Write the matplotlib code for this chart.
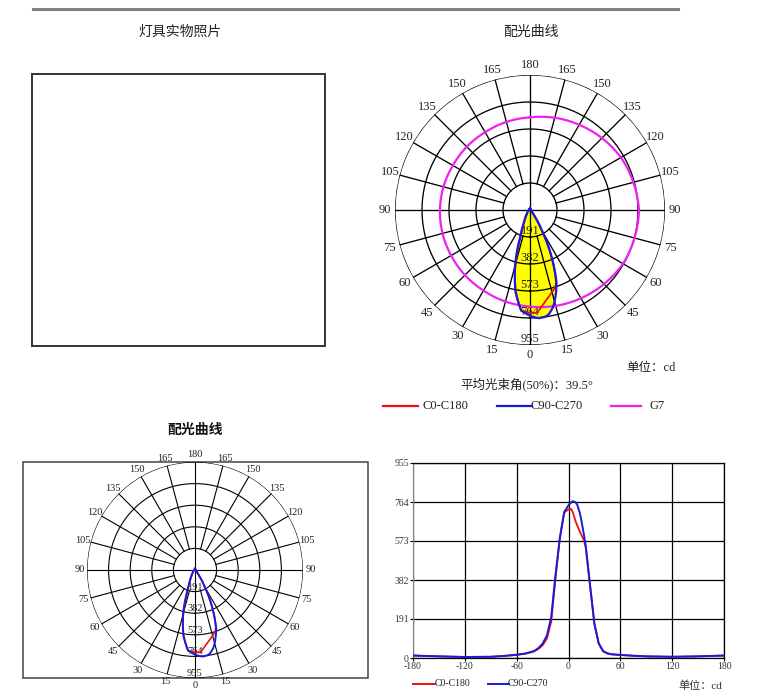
import matplotlib
matplotlib.use("Agg")
import matplotlib.pyplot as plt
import matplotlib.patches as mpatches
import numpy as np

# Data (angle in degrees, intensity in cd)
angles = [-180, -150, -120, -90, -75, -60, -50, -45, -40, -35, -30, -25, -20, -15, -10, -5,
          0, 3, 5, 8, 10, 13, 15, 18, 20, 25, 30, 35, 40, 45, 50, 60, 75, 90, 120, 150, 180]
c90_c270 = [12, 8, 5, 6, 10, 16, 22, 28, 34, 48, 70, 110, 200, 410, 585, 715,
            748, 762, 768, 763, 752, 712, 672, 600, 548, 355, 168, 72, 34, 23, 18, 15, 11, 8, 6, 8, 12]
c0_c180 = [12, 8, 5, 6, 10, 15, 21, 26, 32, 44, 62, 95, 178, 392, 592, 712,
           728, 730, 714, 672, 650, 620, 602, 576, 540, 352, 165, 70, 33, 22, 18, 15, 11, 8, 6, 8, 12]
g7_angles = [-180, -150, -120, -90, -60, -30, 0, 30, 60, 90, 120, 150, 180]
g7_values = [655, 635, 630, 637, 644, 658, 683, 721, 760, 771, 743, 696, 655]

rings = [191, 382, 573, 764, 955]
x_ticks = [-180, -120, -60, 0, 60, 120, 180]

W, H = 765, 696
SERIF = "Liberation Serif"
CJK = ["Noto Sans CJK SC", "DejaVu Sans"]
MIX = ["Liberation Serif", "Noto Sans CJK SC"]

fig = plt.figure(figsize=(W / 100, H / 100), dpi=100)
fig.patch.set_facecolor("white")

# overlay in pixel coordinates for frames and text
ov = fig.add_axes([0, 0, 1, 1], zorder=0)
ov.set_xlim(0, W)
ov.set_ylim(H, 0)
ov.axis("off")


def px_axes(cx, cy, r, **kw):
    return fig.add_axes([(cx - r) / W, (H - cy - r) / H, 2 * r / W, 2 * r / H], **kw)


def arcs(artists, steps=24):
    # let the polar transform bend segments along arcs
    for a in artists:
        a.get_path()._interpolation_steps = steps


def draw_polar(ax, fs, lw, lab_k):
    ax.set_theta_zero_location("S")
    ax.set_ylim(0, rings[-1])
    ax.grid(False)
    ax.set_xticks([])
    ax.set_yticks([])
    ax.spines["polar"].set_visible(False)
    ax.patch.set_alpha(0)
    full = np.linspace(0, 2 * np.pi, 361)
    for r in rings:
        ax.plot(full, np.full_like(full, r), color="black", lw=lw, zorder=2)
    for a in range(0, 360, 15):
        t = np.deg2rad(a)
        r0 = 0 if a % 90 == 0 else rings[0]
        ax.plot([t, t], [r0, rings[-1]], color="black", lw=lw, zorder=2)
    for a in range(0, 181, 15):
        sides = (1,) if a in (0, 180) else (1, -1)
        for s in sides:
            ax.text(np.deg2rad(s * a), rings[-1] * lab_k, str(a), ha="center", va="center",
                    fontsize=fs, family=SERIF, color="#222222", clip_on=False)
    for v in rings:
        ax.text(0, v, str(v), ha="center", va="bottom", fontsize=fs,
                family=SERIF, color="#222222", zorder=3)


th = np.deg2rad(angles)

# --- top line and titles ---
ov.plot([33, 678], [9, 9], color="#808080", lw=2.2)
ov.text(180, 32, "灯具实物照片", ha="center", va="center", fontsize=10, family=CJK, color="#222222")
ov.text(531, 32, "配光曲线", ha="center", va="center", fontsize=10, family=CJK, color="#222222")
ov.add_patch(mpatches.Rectangle((32.5, 74), 293, 272, fill=False, ec="#333333", lw=1.4))

# --- top polar ---
ax1 = px_axes(530, 210, 135, projection="polar", zorder=2)
draw_polar(ax1, 9, 0.95, 1.075)
arcs(ax1.fill(th, c90_c270, color="#ffff00", zorder=1))
arcs(ax1.plot(np.deg2rad(g7_angles), g7_values, color="#ee22ee", lw=1.6, zorder=4))
arcs(ax1.plot(th, c0_c180, color="#ee1111", lw=1.3, zorder=5))
arcs(ax1.plot(th, c90_c270, color="#1a1adf", lw=1.6, zorder=6))

ov.text(676, 368, "单位：cd", ha="right", va="center", fontsize=9, family=MIX, color="#222222")
ov.text(527, 384, "平均光束角(50%)：39.5°", ha="center", va="center", fontsize=9,
        family=MIX, color="#222222")
leg = [(383, 418, "#ee1111", "C0-C180", 423),
       (497, 532, "#1a1adf", "C90-C270", 531),
       (611, 641, "#ee22ee", "G7", 650)]
for x0, x1, c, lab, tx in leg:
    ov.plot([x0, x1], [406, 406], color=c, lw=1.6)
    ov.text(tx, 406, lab, ha="left", va="center", fontsize=9, family=SERIF, color="#222222")

# --- bottom-left polar ---
ov.text(195, 430, "配光曲线", ha="center", va="center", fontsize=10, fontweight="bold",
        family=CJK, color="#111111")
ov.add_patch(mpatches.Rectangle((23, 462), 345, 216, fill=False, ec="#444444", lw=1.1))
ax2 = px_axes(195, 570, 108, projection="polar", zorder=2)
draw_polar(ax2, 7.5, 0.8, 1.07)
arcs(ax2.plot(th, c0_c180, color="#ee1111", lw=1.2, zorder=5))
arcs(ax2.plot(th, c90_c270, color="#1a1adf", lw=1.4, zorder=6))

# --- bottom-right cartesian ---
ax3 = fig.add_axes([413 / W, (H - 658) / H, 311 / W, 195 / H], zorder=2)
ax3.plot(angles, c0_c180, color="#ee1111", lw=1.3, zorder=3)
ax3.plot(angles, c90_c270, color="#1a1adf", lw=1.4, zorder=4)
ax3.set_xlim(-180, 180)
ax3.set_ylim(0, rings[-1])
ax3.set_xticks(x_ticks)
ax3.set_xticklabels([str(v) for v in x_ticks], fontsize=7, family=SERIF, color="#333333")
ax3.set_yticks([0] + rings)
ax3.set_yticklabels([str(v) for v in [0] + rings], fontsize=7, family=SERIF, color="#333333")
ax3.grid(True, color="black", lw=0.9)
ax3.set_axisbelow(True)
ax3.tick_params(length=2, width=0.8, pad=1)
for s in ["top", "right", "bottom"]:
    ax3.spines[s].set_color("black")
    ax3.spines[s].set_linewidth(0.9)
ax3.spines["left"].set_color("#808080")

for x0, x1, c, lab, tx in [(413, 435, "#ee1111", "C0-C180", 435),
                           (488, 509, "#1a1adf", "C90-C270", 508)]:
    ov.plot([x0, x1], [684, 684], color=c, lw=1.4)
    ov.text(tx, 684, lab, ha="left", va="center", fontsize=7, family=SERIF, color="#222222")
ov.text(722, 686, "单位：cd", ha="right", va="center", fontsize=8, family=MIX, color="#333333")

plt.savefig("out.png", dpi=100)
